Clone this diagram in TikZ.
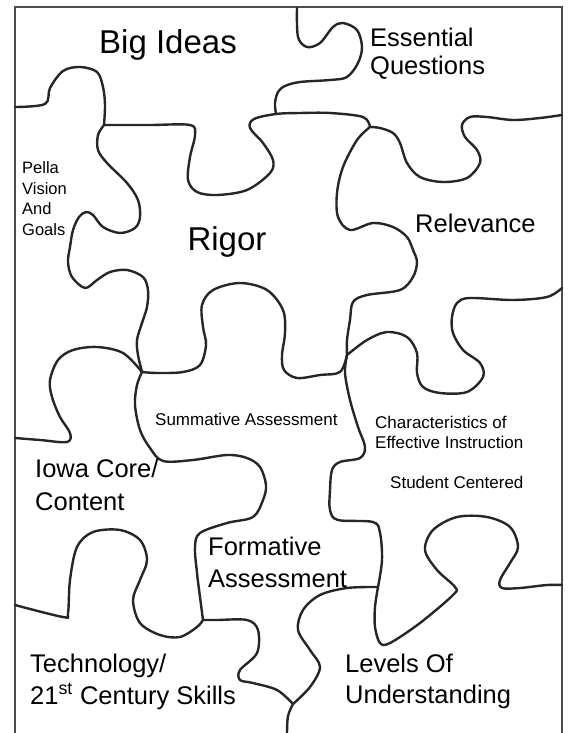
\documentclass[tikz,border=0pt]{standalone}
\usepackage{fontspec}
\setmainfont{Liberation Sans}
\begin{document}
\begin{tikzpicture}[x=1pt,y=-1pt]
\tikzset{
  cut/.style={line width=2.4pt, line cap=round, line join=round, black!85},
  frame/.style={line width=1.8pt, black!70},
  bigtxt/.style={font=\fontsize{33}{38}\selectfont, inner sep=0pt},
  midtxt/.style={font=\fontsize{25.5}{32}\selectfont, inner sep=0pt, align=left},
  smalltxt/.style={font=\fontsize{17}{20}\selectfont, inner sep=0pt, align=left},
  tinytxt/.style={font=\fontsize{16.5}{20.5}\selectfont, inner sep=0pt, align=left},
}
\useasboundingbox (0,0) rectangle (568,733);

% Frame
\draw[frame] (15,733) -- (15,7) -- (562,7) -- (562,733);

% Junctions
\coordinate (jBig) at (104,125);
\coordinate (jEss) at (370,127);
\coordinate (jRig) at (142,372);
\coordinate (jRel) at (347,355);
\coordinate (jFor) at (203,620);
\coordinate (jLev) at (378,587);
\coordinate (jSte) at (293,704);

% Big Ideas / Pella
\draw[cut] plot[smooth,tension=0.55] coordinates {(15,107) (45,104) (50,88) (63,71) (80,67) (97,72) (103,87) (105,105) (jBig)};
% Big Ideas / Rigor
\draw[cut] plot[smooth,tension=0.55] coordinates {(jBig) (150,125) (190,125) (195,135) (190,157) (188,180) (197,192) (217,195) (247,190) (270,173) (273,160) (263,143) (250,128) (254,119) (276,114) (300,113) (330,113) (363,117) (jEss)};
% Essential Questions
\draw[cut] plot[smooth,tension=0.55] coordinates {(297,8) (298,37) (307,47) (320,43) (333,27) (343,23) (357,30) (362,47) (358,63) (347,77) (330,80) (300,82) (285,86) (278,92) (275,103) (276,114)};

% Pella / Rigor
\draw[cut] plot[smooth,tension=0.55] coordinates {(jBig) (98,135) (98,150) (107,163) (127,183) (138,200) (140,217) (135,228) (120,233) (103,227) (93,215) (86,212) (79,217) (73,230) (70,247) (68,262) (72,277) (85,288) (97,280) (110,272) (127,270) (143,277) (148,290) (147,307) (142,323) (137,340) (138,355) (jRig)};

% Rigor / Summative
\draw[cut] plot[smooth,tension=0.55] coordinates {(jRig) (157,373) (183,372) (200,365) (206,345) (203,327) (202,305) (213,290) (240,283) (267,290) (283,310) (285,333) (282,355) (284,370) (297,378) (320,375) (340,372) (jRel)};

% Pella / Iowa Core
\draw[cut] plot[smooth,tension=0.55] coordinates {(15,438) (40,440) (67,442) (70,433) (60,417) (52,397) (50,380) (58,360) (73,350) (97,347) (123,353) (jRig)};

% Summative / Iowa Core / Formative
\draw[cut] plot[smooth,tension=0.55] coordinates {(jRig) (137,385) (135,405) (140,430) (150,448) (163,461) (193,460) (227,455) (247,458) (260,467) (266,485) (263,500) (253,517) (227,523) (200,533) (195,547) (197,573) (200,597) (jFor)};

% Iowa Core / Technology
\draw[cut] plot[smooth,tension=0.55] coordinates {(15,605) (63,617) (68,613) (70,580) (77,547) (93,532) (120,530) (140,540) (147,560) (140,580) (133,600) (140,623) (160,635) (180,637) (197,627) (jFor)};

% Formative / Technology
\draw[cut] plot[smooth,tension=0.55] coordinates {(jFor) (217,620) (247,620) (258,630) (257,653) (240,670) (240,680) (253,683) (277,690) (jSte)};

% Formative / Levels
\draw[cut] plot[smooth,tension=0.55] coordinates {(jLev) (347,588) (320,595) (303,610) (298,630) (310,650) (320,667) (310,687) (jSte)};
\draw[cut] plot[smooth,tension=0.55] coordinates {(jSte) (288,716) (287,733)};

% Rigor / Relevance
\draw[cut] plot[smooth,tension=0.55] coordinates {(jEss) (357,140) (343,167) (337,193) (338,217) (350,230) (373,223) (393,227) (407,237) (413,250) (417,262) (413,277) (400,290) (367,295) (353,302) (350,320) (347,340) (jRel)};

% Essential Questions / Relevance
\draw[cut] plot[smooth,tension=0.55] coordinates {(jEss) (380,128) (393,133) (400,143) (407,163) (420,177) (443,182) (467,178) (480,163) (477,150) (465,137) (462,125) (470,117) (487,117) (513,120) (540,118) (562,115)};

% Relevance / Characteristics
\draw[cut] plot[smooth,tension=0.55] coordinates {(jRel) (367,340) (387,332) (407,337) (417,353) (417,373) (423,387) (440,393) (467,392) (483,377) (480,363) (463,350) (453,333) (452,317) (457,303) (470,298) (513,300) (547,297) (562,288)};

% Summative / Characteristics / Formative
\draw[cut] plot[smooth,tension=0.55] coordinates {(jRel) (345,373) (350,400) (358,427) (365,447) (360,458) (340,462) (332,470) (330,490) (330,510) (338,520) (373,522) (380,533) (382,560) (jLev)};

% Characteristics / Levels
\draw[cut] plot[smooth,tension=0.55] coordinates {(jLev) (375,607) (375,627) (380,643) (390,643) (420,623) (453,595) (455,587) (437,570) (425,550) (433,530) (457,517) (487,517) (510,527) (518,547) (510,563) (500,580) (502,588) (520,588) (547,585) (562,585)};

% Labels (multi-line nodes sit on the baseline of their last line)
\node[bigtxt, anchor=base] (bigideas) at (168,54) {Big Ideas};
\node[bigtxt, anchor=base] (rigor) at (227,250) {Rigor};
\node[midtxt, font=\fontsize{25.5}{28}\selectfont, anchor=base west] (essential) at (370,75) {Essential\\Questions};
\node[midtxt, anchor=base west] (relevance) at (415,232) {Relevance};
\node[tinytxt, anchor=base west] (pella) at (22,235) {Pella\\Vision\\And\\Goals};
\node[smalltxt, anchor=base west] (summative) at (155,425) {Summative Assessment};
\node[smalltxt, anchor=base west] (character) at (375,448) {Characteristics of\\Effective Instruction};
\node[smalltxt, anchor=base west] (student) at (390,488) {Student Centered};
\node[midtxt, font=\fontsize{25.5}{33}\selectfont, anchor=base west] (iowa) at (35,510) {Iowa Core/\\Content};
\node[midtxt, anchor=base west] (formative) at (208,587) {Formative\\Assessment};
\node[midtxt, anchor=base west] (technology) at (30,704) {Technology/\\21\textsuperscript{st} Century Skills};
\node[midtxt, font=\fontsize{25.5}{31}\selectfont, anchor=base west] (levels) at (345,703) {Levels Of\\Understanding};
\end{tikzpicture}
\end{document}
